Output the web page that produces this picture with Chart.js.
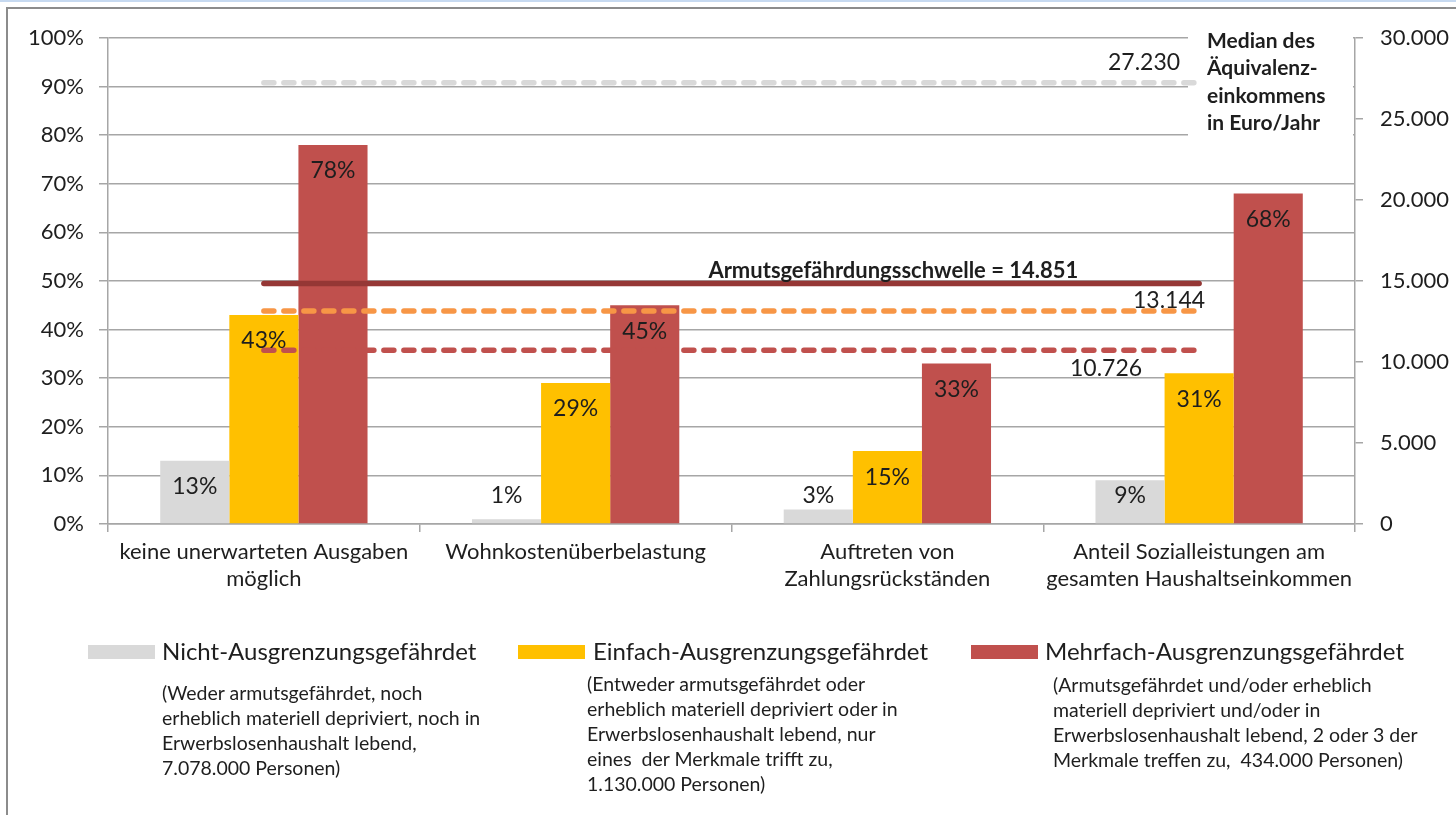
<!DOCTYPE html>
<html lang="de">
<head>
<meta charset="utf-8">
<title>Ausgrenzungsgefährdung</title>
<script src="https://cdn.jsdelivr.net/npm/chart.js@4.4.1/dist/chart.umd.min.js"></script>
<style>
  body { margin: 0; background: #fff; font-family: Lato, "Open Sans", sans-serif; color: #1e1e1e; }
  #wrap { position: relative; width: 1456px; height: 815px; overflow: hidden; }
  #topline { position: absolute; left: 0; top: 0; width: 1456px; height: 2px; background: #c6d9f0; }
  #frame { position: absolute; left: 6px; top: 7px; width: 1470px; height: 830px; border-left: 2px solid #8c8c8c; border-top: 2px solid #8c8c8c; }
  #chart { position: absolute; left: 0; top: 0; }
  .lg-swatch { position: absolute; width: 67px; height: 14px; }
  .lg-title { position: absolute; font-size: 24px; line-height: 28px; white-space: nowrap; }
  .lg-desc { position: absolute; font-size: 19.5px; line-height: 25px; white-space: nowrap; }
</style>
</head>
<body>
<div id="wrap">
  <div id="topline"></div>
  <div id="frame"></div>
  <canvas id="chart" width="1456" height="815"></canvas>
  <div id="legend"></div>
</div>
<script>
// categories and values (percent)
const categories = [
    ['keine unerwarteten Ausgaben', 'möglich'],
    'Wohnkostenüberbelastung',
    ['Auftreten von', 'Zahlungsrückständen'],
    ['Anteil Sozialleistungen am', 'gesamten Haushaltseinkommen']
];
const seriesNames = ['Nicht-Ausgrenzungsgefährdet', 'Einfach-Ausgrenzungsgefährdet', 'Mehrfach-Ausgrenzungsgefährdet'];
const nichtValues = [13, 1, 3, 9];
const einfachValues = [43, 29, 15, 31];
const mehrfachValues = [78, 45, 33, 68];
const seriesColors = ['#d9d9d9', '#ffc000', '#c0504d'];

const seriesDescriptions = [
    ['(Weder armutsgefährdet, noch', 'erheblich materiell depriviert, noch in', 'Erwerbslosenhaushalt lebend,', '7.078.000 Personen)'],
    ['(Entweder armutsgefährdet oder', 'erheblich materiell depriviert oder in', 'Erwerbslosenhaushalt lebend, nur', 'eines\u00a0 der Merkmale trifft zu,', '1.130.000 Personen)'],
    ['(Armutsgefährdet und/oder erheblich', 'materiell depriviert und/oder in', 'Erwerbslosenhaushalt lebend, 2 oder 3 der', 'Merkmale treffen zu,\u00a0 434.000 Personen)']
];

// income lines (Euro/Jahr, right axis)
const medianEinkommen = 27230;
const armutsSchwelle = 14851;
const einfachMedian = 13144;
const mehrfachMedian = 10726;

const leftTicks = { min: 0, max: 100, step: 10 };
const rightTicks = { min: 0, max: 30000, step: 5000 };

function fmt(n) {
    return String(n).replace(/\B(?=(\d{3})+(?!\d))/g, '.');
}

const flat = v => categories.map(() => v);
const textColor = '#1e1e1e';

const labelPlugin = {
    id: 'labels',
    beforeDatasetsDraw(chart) {
        // white box behind the right-hand caption
        const ctx = chart.ctx;
        ctx.save();
        ctx.fillStyle = '#fff';
        ctx.fillRect(1188, 28, 165, 124);
        ctx.restore();
    },
    afterDatasetsDraw(chart) {
        const ctx = chart.ctx;
        const base = chart.scales.y.getPixelForValue(0);
        ctx.save();
        ctx.fillStyle = textColor;
        ctx.textBaseline = 'middle';

        // bar labels
        ctx.font = '23px Lato';
        ctx.textAlign = 'center';
        [0, 1, 2].forEach(i => {
            chart.getDatasetMeta(i).data.forEach((bar, j) => {
                const v = chart.data.datasets[i].data[j];
                const y = Math.min(bar.y + 26, base - 28);
                ctx.fillText(v + '%', bar.x, y);
            });
        });

        // line labels
        const endPt = i => chart.getDatasetMeta(i).data[3];
        ctx.textAlign = 'right';
        let p = endPt(3);
        ctx.fillText(fmt(medianEinkommen), p.x - 19, p.y - 20);
        p = endPt(5);
        ctx.fillText(fmt(einfachMedian), p.x + 6, p.y - 10);
        p = endPt(6);
        ctx.fillText(fmt(mehrfachMedian), p.x - 57, p.y + 18);

        ctx.font = 'bold 22px Lato';
        ctx.textAlign = 'center';
        p = chart.getDatasetMeta(4).data[2];
        ctx.fillText('Armutsgefährdungsschwelle = ' + fmt(armutsSchwelle), p.x + 6, p.y - 13);

        ctx.font = 'bold 21px Lato';
        ctx.textAlign = 'left';
        const top = chart.chartArea.top;
        ['Median des', 'Äquivalenz-', 'einkommens', 'in Euro/Jahr'].forEach((t, k) => {
            ctx.fillText(t, 1207, top + 3 + k * 27.5);
        });
        ctx.restore();
    }
};

const lineDs = (label, value, color, dashed) => ({
    type: 'line',
    label: label,
    data: flat(value),
    yAxisID: 'y2',
    borderColor: color,
    borderWidth: 5.5,
    borderDash: dashed ? [10, 10] : [],
    borderCapStyle: 'round',
    pointRadius: 0,
    order: 1
});

const barDs = (i, values) => ({
    type: 'bar',
    label: seriesNames[i],
    data: values,
    backgroundColor: seriesColors[i],
    yAxisID: 'y',
    barPercentage: 1,
    categoryPercentage: 0.665,
    order: 2
});

const gridColor = '#a6a6a6';
const tickFont = { family: 'Lato', size: 22 };

new Chart(document.getElementById('chart'), {
    type: 'bar',
    data: {
        labels: categories,
        datasets: [
            barDs(0, nichtValues),
            barDs(1, einfachValues),
            barDs(2, mehrfachValues),
            lineDs('Median', medianEinkommen, '#d9d9d9', true),
            lineDs('Armutsgefährdungsschwelle', armutsSchwelle, '#953735', false),
            lineDs('Einfach', einfachMedian, '#f79646', true),
            lineDs('Mehrfach', mehrfachMedian, '#c0504d', true)
        ]
    },
    options: {
        responsive: false,
        animation: false,
        layout: { padding: { top: 38, left: 0, right: 0, bottom: 0 } },
        plugins: { legend: { display: false }, tooltip: { enabled: false } },
        scales: {
            x: {
                offset: true,
                grid: { offset: true, drawOnChartArea: false, tickLength: 8, color: gridColor, lineWidth: 1.5 },
                border: { color: gridColor, width: 1.5 },
                ticks: { font: tickFont, color: textColor, padding: 7, maxRotation: 0, autoSkip: false },
                afterFit: s => { s.height = 291; }
            },
            y: {
                position: 'left',
                min: leftTicks.min,
                max: leftTicks.max,
                grid: { color: gridColor, lineWidth: 1.5, tickLength: 9 },
                border: { color: gridColor, width: 1.5 },
                ticks: { stepSize: leftTicks.step, font: tickFont, color: textColor, padding: 15, callback: v => v + '%' },
                afterFit: s => { s.width = 108; }
            },
            y2: {
                position: 'right',
                min: rightTicks.min,
                max: rightTicks.max,
                grid: { drawOnChartArea: false, color: gridColor, lineWidth: 1.5, tickLength: 8 },
                border: { color: gridColor, width: 1.5 },
                ticks: { stepSize: rightTicks.step, font: tickFont, color: textColor, padding: 17, callback: v => fmt(v) },
                afterFit: s => { s.width = 101; }
            }
        }
    },
    plugins: [labelPlugin]
});

// legend with descriptions
const legendPos = [
    { sw: 88, title: 162, desc: 162, descTop: 680 },
    { sw: 518, title: 593, desc: 587, descTop: 671 },
    { sw: 971, title: 1045, desc: 1053, descTop: 672 }
];
const legend = document.getElementById('legend');
seriesNames.forEach((name, i) => {
    const pos = legendPos[i];
    legend.insertAdjacentHTML('beforeend', `
        <div class="lg-swatch" style="left:${pos.sw}px;top:645px;background:${seriesColors[i]}"></div>
        <div class="lg-title" style="left:${pos.title}px;top:637px">${name}</div>
        <div class="lg-desc" style="left:${pos.desc}px;top:${pos.descTop}px">${seriesDescriptions[i].join('<br>')}</div>
    `);
});
</script>
</body>
</html>
